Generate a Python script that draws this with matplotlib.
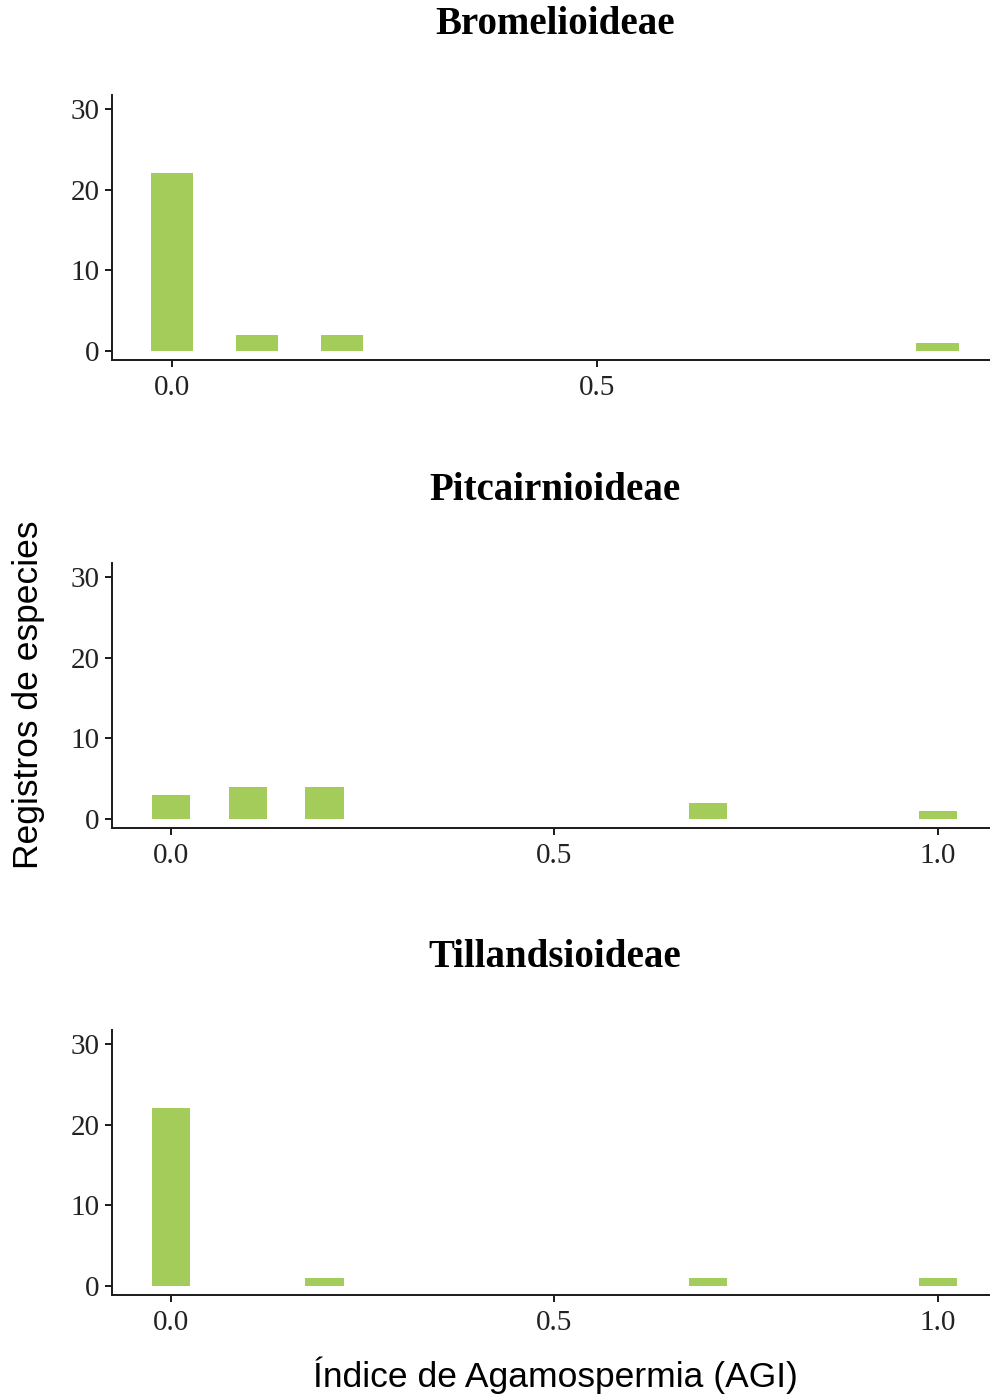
#%%
import numpy as np
import matplotlib.pyplot as plt

# datos por subfamilia (AGI, numero de registros)
subfamilias = ['Bromelioideae', 'Pitcairnioideae', 'Tillandsioideae']
agi_bromel = [0.0, 0.1, 0.2, 0.9]
n_bromel = [22, 2, 2, 1]
agi_pitca = [0.0, 0.1, 0.2, 0.7, 1.0]
n_pitca = [3, 4, 4, 2, 1]
agi_tilla = [0.0, 0.2, 0.7, 1.0]
n_tilla = [22, 1, 1, 1]
x_ticks = [0.0, 0.5, 1.0]
y_ticks = [0, 10, 20, 30]

datos = [(agi_bromel, n_bromel), (agi_pitca, n_pitca), (agi_tilla, n_tilla)]
#%%
verde = '#a3cc5a'
serif = 'Liberation Serif'
sans = 'Liberation Sans'

fig = plt.figure(figsize=(9.9, 13.97), dpi=100)

# [left, bottom, width, height] de cada panel
posiciones = [[0.1131, 0.7423, 0.8869, 0.1897],
              [0.1131, 0.4073, 0.8869, 0.1897],
              [0.1131, 0.0730, 0.8869, 0.1897]]
xlims = [(-0.0706, 0.962), (-0.077, 1.068), (-0.077, 1.068)]
titulo_y = [0.9825, 0.6488, 0.3147]

for i in range(3):
    ax = fig.add_axes(posiciones[i])
    agi, n = datos[i]
    ax.bar(agi, n, width=0.05, color=verde, edgecolor='none')
    ax.set_xticks(x_ticks)
    ax.set_xticklabels(['%.1f' % t for t in x_ticks])
    ax.set_yticks(y_ticks)
    # limites despues de los ticks (set_xticks amplia el rango)
    ax.set_xlim(xlims[i])
    ax.set_ylim(-1.1, 31.7)
    for s in ['top', 'right']:
        ax.spines[s].set_visible(False)
    for s in ['left', 'bottom']:
        ax.spines[s].set_linewidth(1.4)
        ax.spines[s].set_color('#1a1a1a')
    ax.tick_params(axis='both', length=5, width=1.4, color='#1a1a1a',
                   labelsize=21, labelcolor='#222222')
    ax.tick_params(axis='x', pad=6)
    ax.tick_params(axis='y', pad=4)
    for lab in ax.get_xticklabels() + ax.get_yticklabels():
        lab.set_family(serif)
    fig.text(0.5606, titulo_y[i], subfamilias[i], ha='center', va='center',
             fontsize=28, fontweight='bold', family=serif)

fig.text(0.0283, 0.5025, 'Registros de especies', rotation=90,
         ha='center', va='center', fontsize=25.5, family=sans)
fig.text(0.5606, 0.0157, 'Índice de Agamospermia (AGI)',
         ha='center', va='center', fontsize=25.5, family=sans)

plt.savefig('out.png', dpi=100)
